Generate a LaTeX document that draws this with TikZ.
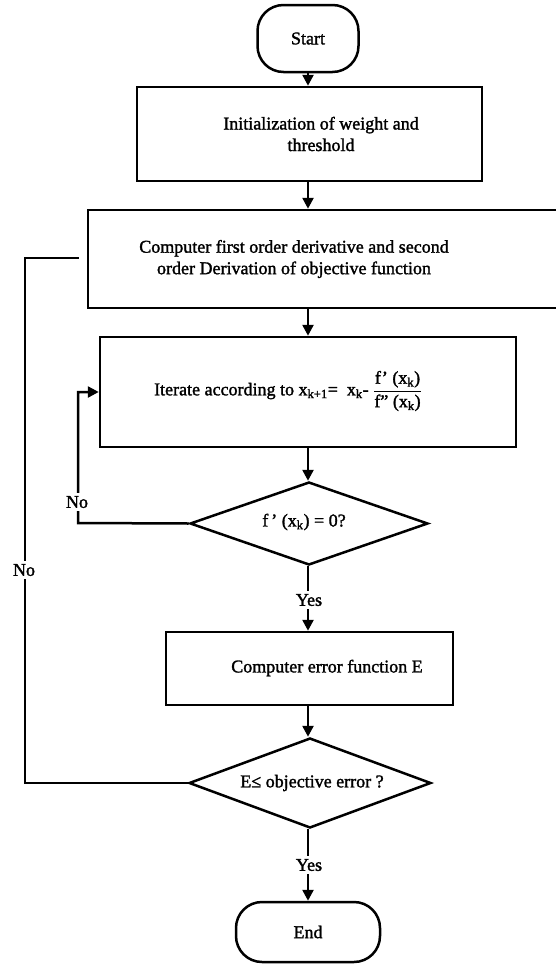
\documentclass[tikz,border=0pt]{standalone}
\usepackage{fontspec}
\setmainfont{Liberation Serif}[FakeBold=1.6]
\usetikzlibrary{shapes.geometric,arrows.meta}
\begin{document}
\begin{tikzpicture}[x=1pt,y=-1pt,
  lw/.style={line width=2.5pt},
  term/.style={draw,lw,rectangle,rounded corners=26pt,inner sep=0pt,font=\fontsize{18}{21.5}\selectfont},
  procbox/.style={draw,lw,rectangle,inner sep=0pt},
  decide/.style={draw,lw,diamond,inner sep=0pt},
  txt/.style={font=\fontsize{18}{21.5}\selectfont,inner sep=0pt,align=center},
  arr/.style={lw,-{Triangle[width=11pt,length=11pt]}},
  conn/.style={lw},
  lab/.style={txt,fill=white,inner sep=3pt}]
\useasboundingbox (0,0) rectangle (555,964);
% shapes
\node[term,minimum width=101pt,minimum height=67pt] (st) at (308,38.5) {Start};
\node[procbox,minimum width=345pt,minimum height=94pt] (b1) at (309.5,134) {};
\node[procbox,minimum width=487pt,minimum height=98pt] (b2) at (331.5,259) {};
\node[procbox,minimum width=416pt,minimum height=110pt] (b3) at (308,392) {};
\node[decide,minimum width=238pt,minimum height=83pt] (d1) at (309,523.5) {};
\node[procbox,minimum width=287pt,minimum height=73pt] (b4) at (309.5,668.5) {};
\node[decide,minimum width=242pt,minimum height=90pt] (d2) at (310,783) {};
\node[term,minimum width=144pt,minimum height=60pt] (en) at (308,932) {End};
% texts
\node[txt] (t1) at (321,134) {Initialization of weight and\\threshold};
\node[txt] (t2) at (294,259) {Computer first order derivative and second\\order Derivation of objective function};
\node[txt] (t3) at (288,391) {Iterate according to x\textsubscript{k+1}=\ \ x\textsubscript{k}- $\displaystyle\frac{\mbox{f' (x\textsubscript{k})}}{\mbox{f'' (x\textsubscript{k})}}$};
\node[txt] (t4) at (304,522) {f\,' (x\textsubscript{k}) = 0?};
\node[txt] (t5) at (327,668) {Computer error function E};
\node[txt] (t6) at (312,783) {E≤ objective error ?};
\node[lab] (y1) at (309,600) {Yes};
\node[lab] (y2) at (309,865) {Yes};
\coordinate (c1) at (78,523);
\coordinate (c2) at (25,783);
\coordinate (c3) at (25,258);
\coordinate (c4) at (79,258);
% connectors
\draw[arr] (st.south) -- (b1.north -| st);
\draw[arr] (b1.south -| st) -- (b2.north -| st);
\draw[arr] (b2.south -| st) -- (b3.north -| st);
\draw[arr] (b3.south -| st) -- (d1.north -| st);
\draw[conn] (d1.south -| st) -- (y1.north -| st);
\draw[arr] (y1.south -| st) -- (b4.north -| st);
\draw[arr] (b4.south -| st) -- (d2.north -| st);
\draw[conn] (d2.south -| st) -- (y2.north -| st);
\draw[arr] (y2.south -| st) -- (en.north -| st);
\draw[arr] (d1.west) -- (c1) |- (b3.west);
\draw[conn] (d2.west) -- (c2) -- (c3) -- (c4);
\node[lab] (n1) at (77,502) {No};
\node[lab] (n2) at (24,570) {No};
\end{tikzpicture}
\end{document}
